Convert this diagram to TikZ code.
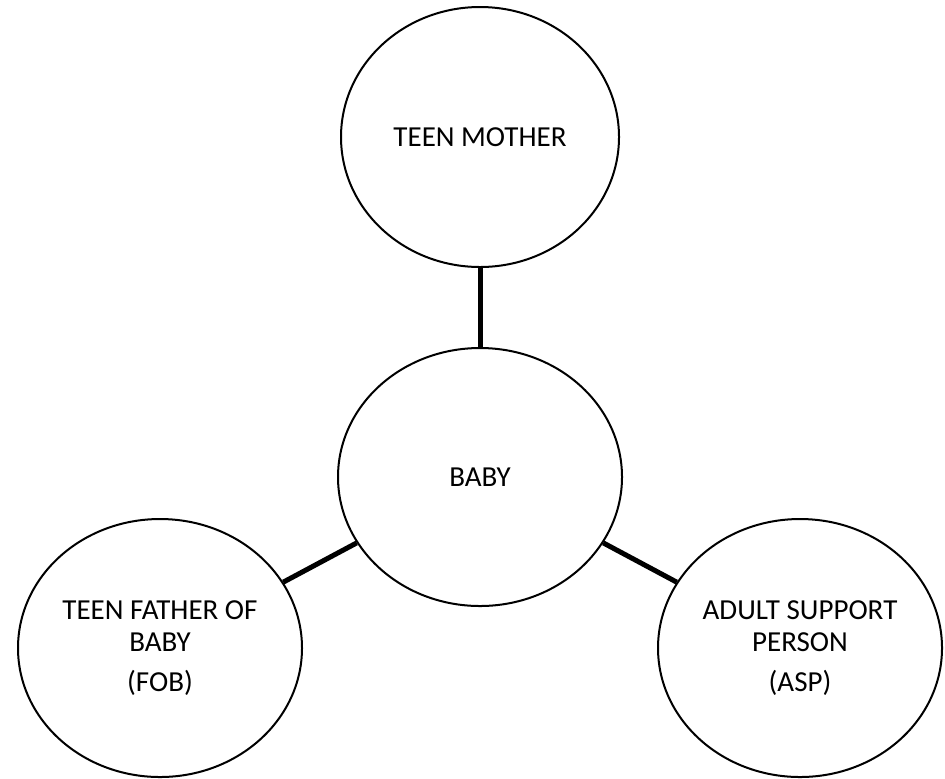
\documentclass[tikz,border=0pt]{standalone}
\usepackage{fontspec}
\setmainfont{Carlito}
\usetikzlibrary{shapes.geometric}
\begin{document}
\begin{tikzpicture}[x=0.5pt, y=-0.5pt,
    person/.style={draw, ellipse, line width=1pt, minimum width=142pt, minimum height=129pt, inner sep=0pt, align=center, font=\fontsize{14.5}{16}\selectfont},
    tie/.style={line width=2.5pt}]
                \useasboundingbox (0,0) rectangle (945,778);

                % Teen mother
                \node[person, minimum width=139pt, minimum height=130pt] (M) at (480,137) {TEEN MOTHER};

                % Baby
                \node[person] (B) at (480,477) {BABY};

                % Father and support person
                \node[person] (F) at (160,648) {TEEN FATHER OF\\BABY\\[4pt](FOB)};
                \node[person] (A) at (800,648) {ADULT SUPPORT\\PERSON\\[4pt](ASP)};

                % Ties
                \draw[tie] (M) -- (B);
                \draw[tie] (B) -- (F);
                \draw[tie] (B) -- (A);
\end{tikzpicture}
\end{document}
